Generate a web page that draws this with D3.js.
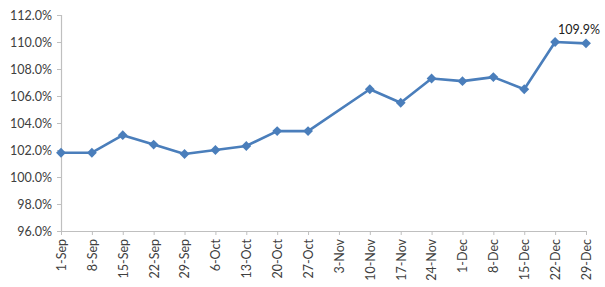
<!DOCTYPE html>
<html>
<head>
<meta charset="utf-8">
<script src="https://cdn.jsdelivr.net/npm/d3@7"></script>
<style>
  body { margin: 0; background: #fff; }
  svg { display: block; }
  text { font-family: Lato, "Open Sans", sans-serif; fill: #404040; }
</style>
</head>
<body>
<div id="chart_div"></div>
<script>
// weekly values, 3-Nov has no reading
var weeks = ["1-Sep", "8-Sep", "15-Sep", "22-Sep", "29-Sep", "6-Oct", "13-Oct", "20-Oct", "27-Oct",
    "3-Nov", "10-Nov", "17-Nov", "24-Nov", "1-Dec", "8-Dec", "15-Dec", "22-Dec", "29-Dec"];
var values = [101.8, 101.8, 103.1, 102.4, 101.7, 102.0, 102.3, 103.4, 103.4,
    null, 106.5, 105.5, 107.3, 107.1, 107.4, 106.5, 110.0, 109.9];
var yTicks = [96, 98, 100, 102, 104, 106, 108, 110, 112];

var width = 605, height = 287;
var margin = {top: 15, right: 19, bottom: 56, left: 61};
const LINE_COLOR = "#4a7ebb", AXIS_COLOR = "#bfbfbf";

var svg = d3.select("#chart_div").append("svg")
    .attr("width", width)
    .attr("height", height);

var x = d3.scalePoint()
    .domain(weeks)
    .range([margin.left, width - margin.right]);

var y = d3.scaleLinear()
    .domain([96, 112])
    .range([height - margin.bottom, margin.top]);

// y axis
var yAxis = svg.append("g")
    .attr("transform", "translate(" + margin.left + ",0)")
    .call(d3.axisLeft(y).tickValues(yTicks).tickSize(4).tickPadding(5)
        .tickFormat(function(d) { return d.toFixed(1) + "%"; }));
yAxis.selectAll("text").style("font-size", "12.5px");

// x axis
var xAxis = svg.append("g")
    .attr("transform", "translate(0," + (height - margin.bottom) + ")")
    .call(d3.axisBottom(x).tickSize(4).tickSizeOuter(0));
xAxis.selectAll("text")
    .style("font-size", "12.5px")
    .attr("text-anchor", "end")
    .attr("transform", "rotate(-90)")
    .attr("x", -8)
    .attr("y", 0)
    .attr("dy", "0.35em");

svg.selectAll(".domain, .tick line").attr("stroke", AXIS_COLOR);
svg.selectAll(".domain").attr("stroke-width", 1.2);

var points = weeks.map(function(w, i) { return {week: w, value: values[i]}; })
    .filter(function(d) { return d.value != null; });

var line = d3.line()
    .x(function(d) { return x(d.week); })
    .y(function(d) { return y(d.value); });

svg.append("path")
    .datum(points)
    .attr("fill", "none")
    .attr("stroke", LINE_COLOR)
    .attr("stroke-width", 2.6)
    .attr("stroke-linejoin", "round")
    .attr("d", line);

svg.append("g").selectAll("path")
    .data(points)
    .enter()
    .append("path")
    .attr("d", d3.symbol().type(d3.symbolDiamond2).size(62))
    .attr("transform", function(d) { return "translate(" + x(d.week) + "," + y(d.value) + ")"; })
    .attr("fill", LINE_COLOR);

// label on last point
var last = points[points.length - 1];
svg.append("text")
    .attr("x", x(last.week) - 28)
    .attr("y", y(last.value) - 9)
    .attr("text-anchor", "start")
    .style("font-size", "12.5px")
    .style("fill", "#202020")
    .text(last.value.toFixed(1) + "%");
</script>
</body>
</html>
